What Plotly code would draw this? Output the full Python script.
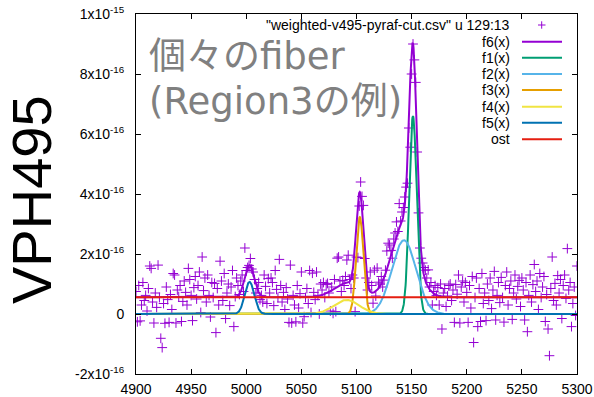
import numpy as np
import plotly.graph_objects as go

# ---- spectrum: column 13 of weighted-v495-pyraf-cut.csv ----
wave_start = 4900.0     # Angstrom
wave_step = 1.25        # Angstrom per sample
flux_unit = 1e-16
flux_e16 = [
    0.75, -0.26, 0.95, -0.23, 0.30, 1.05, 0.45, 0.62, 0.10, 0.85, 1.60, 1.52, 0.40, -0.30, 0.70, 0.22,
    1.63, 0.55, -0.81, -1.12, 0.35, -0.31, 0.90, 0.48, -0.28, 0.65, 0.15, 1.35, 1.30, -0.30, 0.80, 0.58,
    0.95, -0.25, 0.42, 1.10, 0.72, 0.30, 1.52, 1.15, 0.62, -0.22, 0.88, 1.25, 0.50, 0.95, 1.40, 0.05,
    1.90, 0.78, 1.20, 0.40, 1.30, 0.62, -0.10, 1.05, 0.55, 1.02, -0.62, 0.85, 0.30, 1.76, 1.10, 0.45,
    1.35, -0.15, 0.70, 1.00, 0.28, 0.90, 1.45, -0.42, 0.58, 1.20, 0.95, 0.65, 1.10, 1.30, 0.75, 2.20,
    1.45, 1.55, 1.62, 1.85, 1.50, 1.40, 1.15, 0.70, 0.85, 1.05, 0.48, 0.62, 0.40, 1.30, 0.92, 0.35,
    1.18, 0.70, 1.20, 1.05, 0.28, 1.45, 0.82, 0.55, 1.82, 0.95, 0.40, 0.72, 0.15, 0.88, 0.50, -0.28,
    1.63, -0.30, 0.62, 0.30, -0.26, 0.95, 0.20, 0.68, 1.40, -0.30, -0.09, 0.55, 0.85, 0.35, 1.45, 0.05,
    1.36, 0.72, 0.48, 1.40, 0.62, 0.00, 1.00, 0.80, 1.05, 0.55, 0.98, 1.02, 0.70, 0.10, 0.90, 0.02,
    1.15, 0.08, 1.86, 1.90, 1.10, 0.75, 1.12, 0.95, 1.25, 1.80, 1.96, 1.15, 0.85, 1.30, 1.20, 0.08,
    1.90, 1.88, 3.60, 4.40, 3.92, 3.62, 1.85, 1.20, 0.80, 1.05, 1.40, 0.95, 0.36, 1.46, 0.60, 1.53,
    1.06, 1.00, 1.25, 0.90, 1.13, 1.46, 2.10, 2.36, 2.30, 2.12, 1.86, 2.50, 2.70, 3.07, 2.75, 3.68,
    3.10, 3.40, 3.55, 3.90, 4.23, 4.36, 6.20, 5.56, 8.00, 9.00, 8.47, 7.72, 5.40, 3.37, 2.20, 1.86,
    1.70, 1.55, 1.46, 1.20, 1.47, 0.90, 1.05, 0.30, 0.75, 0.95, 0.62, 0.88, 0.30, 1.00, -0.50, 0.70,
    0.85, 0.25, 0.60, 0.95, 1.00, 0.45, 0.80, -0.28, 0.98, 0.66, 1.30, -0.30, 0.90, 1.10, 0.40, 1.05,
    0.72, -0.28, 0.95, 0.20, 1.25, -0.95, 0.55, 1.20, -0.42, 0.85, -0.25, 1.35, 0.35, 0.70, -0.22, 1.00,
    0.45, 1.20, 0.18, 0.80, 1.42, -0.20, 0.62, 1.05, 0.38, 1.22, 0.55, -0.27, 0.95, 1.40, 0.30, 0.85,
    1.10, -0.18, 0.70, 1.30, 0.50, 0.92, 1.12, 0.25, 1.20, 0.80, -0.20, 1.05, -0.59, 0.62, 1.30, 0.40,
    0.98, 1.65, 0.75, 1.10, 0.15, 1.35, 0.55, 0.90, 1.25, -0.25, 0.65, -0.50, -1.39, 0.85, 1.90, 0.45,
    1.02, 0.30, 1.28, 0.70, 1.15, -0.15, 0.95, 1.30, 0.52, 2.18, 0.80, 1.05, -0.42, 0.35, 0.90, -0.05,
    1.60,
]

# ---- fitted model: Gaussian components f1..f5 plus constant "ost" ----
comp_names = ["f1(x)", "f2(x)", "f3(x)", "f4(x)", "f5(x)"]
comp_amp_e16 = [6.6, 2.46, 3.23, 0.47, 1.07]
comp_center = [5151.2, 5143.0, 5103.0, 5091.0, 5003.0]
comp_sigma = [3.4, 11.0, 3.3, 11.5, 4.3]
comp_colors = ["#009e73", "#56b4e9", "#e69f00", "#f0e442", "#0072b2"]
ost_e16 = 0.56
ost_color = "#e51e10"
total_color = "#9400d3"
point_color = "#9400d3"

x_range = [4900, 5300]
x_ticks = [4900, 4950, 5000, 5050, 5100, 5150, 5200, 5250, 5300]
y_range = [-2e-16, 1e-15]
y_tickvals = [-2e-16, 0, 2e-16, 4e-16, 6e-16, 8e-16, 1e-15]
y_ticktext = ["-2x10<sup>-16</sup>", "0", "2x10<sup>-16</sup>", "4x10<sup>-16</sup>",
              "6x10<sup>-16</sup>", "8x10<sup>-16</sup>", "1x10<sup>-15</sup>"]

# ---- page geometry (pixels) ----
W, H = 594, 397
PL, PR, PT, PB = 136, 577, 14, 374


def px(xp):
    return (xp - PL) / (PR - PL)


def py(yp):
    return (PB - yp) / (PB - PT)


wave = wave_start + wave_step * np.arange(len(flux_e16))
flux = np.array(flux_e16) * flux_unit

xs = np.linspace(x_range[0], x_range[1], 1601)


def gauss(x, a, mu, s):
    return a * flux_unit * np.exp(-0.5 * ((x - mu) / s) ** 2)


comps = [gauss(xs, a, m, s) for a, m, s in zip(comp_amp_e16, comp_center, comp_sigma)]
ost = np.full_like(xs, ost_e16 * flux_unit)
f6 = ost + np.sum(comps, axis=0)

fig = go.Figure()
fig.add_trace(go.Scatter(
    x=wave, y=flux, mode="markers",
    marker=dict(symbol="cross-thin", size=7, line=dict(width=1, color=point_color)),
    name='"weighted-v495-pyraf-cut.csv" u 129:13'))
fig.add_trace(go.Scatter(x=xs, y=f6, mode="lines", line=dict(color=total_color, width=2), name="f6(x)"))
for name, c, col in zip(comp_names, comps, comp_colors):
    fig.add_trace(go.Scatter(x=xs, y=c, mode="lines", line=dict(color=col, width=2), name=name))
fig.add_trace(go.Scatter(x=xs, y=ost, mode="lines", line=dict(color=ost_color, width=2), name="ost"))

# ---- key (text on the left, sample on the right) ----
key_font = dict(family="Liberation Sans, Arial, sans-serif", size=14, color="black")
key_text_x = 512
key_sample = (522, 562)
key_rows = [("f6(x)", total_color, 41.7), ("f1(x)", comp_colors[0], 57.7), ("f2(x)", comp_colors[1], 74),
            ("f3(x)", comp_colors[2], 90), ("f4(x)", comp_colors[3], 106.7), ("f5(x)", comp_colors[4], 122.7),
            ("ost", ost_color, 139.3)]
annotations = [dict(text='"weighted-v495-pyraf-cut.csv" u 129:13', x=px(key_text_x), y=py(25),
                    xref="paper", yref="paper", xanchor="right", yanchor="middle",
                    showarrow=False, font=key_font)]
shapes = [
    dict(type="line", xref="paper", yref="paper", x0=px(538), x1=px(545.5), y0=py(25), y1=py(25),
         line=dict(color=point_color, width=1)),
    dict(type="line", xref="paper", yref="paper", x0=px(541.7), x1=px(541.7), y0=py(21.3), y1=py(28.7),
         line=dict(color=point_color, width=1)),
]
for label, col, yrow in key_rows:
    annotations.append(dict(text=label, x=px(key_text_x), y=py(yrow), xref="paper", yref="paper",
                            xanchor="right", yanchor="middle", showarrow=False, font=key_font))
    shapes.append(dict(type="line", xref="paper", yref="paper", x0=px(key_sample[0]), x1=px(key_sample[1]),
                       y0=py(yrow), y1=py(yrow), line=dict(color=col, width=2)))

# ---- captions ----
cap_font = dict(family="DejaVu Sans, Noto Sans CJK JP, sans-serif", size=37, color="#808080")
annotations.append(dict(text="個々のfiber", x=px(147), y=py(56), xref="paper", yref="paper",
                        xanchor="left", yanchor="middle", showarrow=False, font=cap_font))
annotations.append(dict(text="(Region3の例)", x=px(147), y=py(101), xref="paper", yref="paper",
                        xanchor="left", yanchor="middle", showarrow=False, font=cap_font))
annotations.append(dict(text="VPH495", x=px(32), y=py(200), xref="paper", yref="paper",
                        xanchor="center", yanchor="middle", textangle=-90, showarrow=False,
                        font=dict(family="Liberation Sans, Arial, sans-serif", size=56, color="black")))

axis_font = dict(family="Liberation Sans, Arial, sans-serif", size=14, color="black")
fig.update_layout(
    width=W, height=H,
    margin=dict(l=PL, r=W - PR, t=PT, b=H - PB, pad=0, autoexpand=False),
    paper_bgcolor="white", plot_bgcolor="white",
    showlegend=False,
    annotations=annotations, shapes=shapes,
    xaxis=dict(range=x_range, tickvals=x_ticks, ticks="inside", ticklen=5, tickcolor="black",
               showline=True, linecolor="black", linewidth=1, mirror="allticks", automargin=False,
               showgrid=False, zeroline=False, tickfont=axis_font, ticklabelstandoff=2),
    yaxis=dict(range=y_range, tickvals=y_tickvals, ticktext=y_ticktext, ticks="inside", ticklen=5,
               tickcolor="black", showline=True, linecolor="black", linewidth=1, mirror="allticks",
               automargin=False, showgrid=False, zeroline=False, tickfont=axis_font, ticklabelstandoff=8),
)

fig.write_html("out.html")
